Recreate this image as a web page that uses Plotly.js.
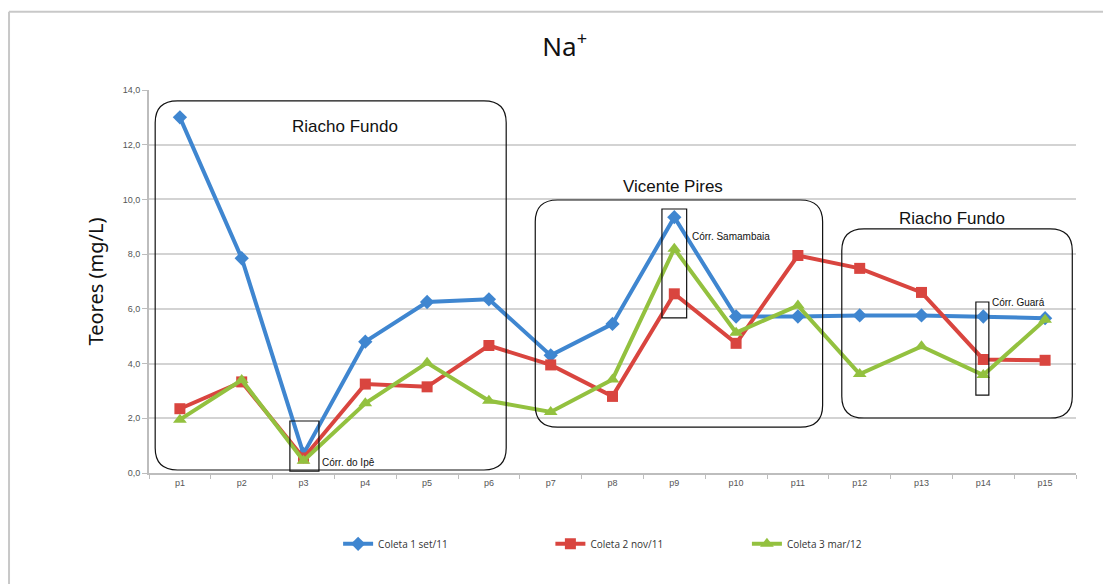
<!DOCTYPE html>
<html>
<head>
<meta charset="utf-8">
<script src="https://cdn.plot.ly/plotly-3.0.1.min.js"></script>
<style>
  html, body { margin: 0; padding: 0; background: #fff; }
  #chart { width: 1103px; height: 584px; }
</style>
</head>
<body>
<div id="chart"></div>
<script>
const points = ['p1', 'p2', 'p3', 'p4', 'p5', 'p6', 'p7', 'p8', 'p9', 'p10', 'p11', 'p12', 'p13', 'p14', 'p15'];

const coleta1 = [13.0, 7.85, 0.7, 4.8, 6.25, 6.35, 4.3, 5.45, 9.35, 5.72, 5.72, 5.76, 5.76, 5.72, 5.66];
const coleta2 = [2.35, 3.33, 0.55, 3.25, 3.15, 4.66, 3.95, 2.8, 6.55, 4.74, 7.95, 7.48, 6.6, 4.15, 4.12];
const coleta3 = [1.95, 3.4, 0.45, 2.55, 4.03, 2.64, 2.23, 3.42, 8.2, 5.13, 6.12, 3.62, 4.63, 3.58, 5.6];

const seriesNames = ['Coleta 1 set/11', 'Coleta 2 nov/11', 'Coleta 3 mar/12'];
const yTicks = [0, 2, 4, 6, 8, 10, 12, 14];

const xIdx = points.map((p, i) => i);
const boundaries = points.map((p, i) => i - 0.5).concat([points.length - 0.5]);

const makeTrace = (y, name, color, symbol, size, legend) => ({
    x: xIdx,
    y,
    name,
    legend,
    type: 'scatter',
    mode: 'lines+markers',
    line: { color, width: 4 },
    marker: { color, symbol, size }
});

// rounded rectangle in data units
const roundRect = (x0, x1, y0, y1, rx, ry) => {
    return 'M ' + (x0 + rx) + ',' + y1 +
        ' L ' + (x1 - rx) + ',' + y1 +
        ' Q ' + x1 + ',' + y1 + ' ' + x1 + ',' + (y1 - ry) +
        ' L ' + x1 + ',' + (y0 + ry) +
        ' Q ' + x1 + ',' + y0 + ' ' + (x1 - rx) + ',' + y0 +
        ' L ' + (x0 + rx) + ',' + y0 +
        ' Q ' + x0 + ',' + y0 + ' ' + x0 + ',' + (y0 + ry) +
        ' L ' + x0 + ',' + (y1 - ry) +
        ' Q ' + x0 + ',' + y1 + ' ' + (x0 + rx) + ',' + y1 + ' Z';
};

const boxLine = { color: '#111', width: 1.2 };

const shapes = [
    { type: 'path', xref: 'x', yref: 'y', path: roundRect(-0.4, 5.28, 0.11, 13.6, 0.36, 0.8), line: boxLine },
    { type: 'path', xref: 'x', yref: 'y', path: roundRect(5.75, 10.4, 1.68, 9.98, 0.36, 0.8), line: boxLine },
    { type: 'path', xref: 'x', yref: 'y', path: roundRect(10.71, 14.44, 2.01, 8.92, 0.36, 0.8), line: boxLine },
    { type: 'rect', xref: 'x', yref: 'y', x0: 1.78, x1: 2.25, y0: 0.07, y1: 1.9, line: boxLine },
    { type: 'rect', xref: 'x', yref: 'y', x0: 7.8, x1: 8.2, y0: 5.67, y1: 9.65, line: boxLine },
    { type: 'rect', xref: 'x', yref: 'y', x0: 12.88, x1: 13.09, y0: 2.85, y1: 6.25, line: boxLine },
    // outer frame
    { type: 'line', xref: 'paper', yref: 'paper', x0: -0.151, x1: -0.151, y0: 1.204, y1: -0.35, line: { color: '#c8c8c8', width: 2 } },
    { type: 'line', xref: 'paper', yref: 'paper', x0: -0.151, x1: 1.1, y0: 1.204, y1: 1.204, line: { color: '#c8c8c8', width: 2 } }
];

const bigFont = { family: 'Liberation Sans, Arial, sans-serif', size: 17, color: '#111' };
const smallFont = { family: 'Liberation Sans, Arial, sans-serif', size: 10, color: '#111' };

const annotations = [
    { x: 2.67, y: 12.68, text: 'Riacho Fundo', font: bigFont },
    { x: 7.98, y: 10.49, text: 'Vicente Pires', font: bigFont },
    { x: 12.49, y: 9.32, text: 'Riacho Fundo', font: bigFont },
    { x: 2.27, y: 0.4, text: 'Córr. do Ipê', font: smallFont, xanchor: 'left' },
    { x: 8.25, y: 8.63, text: 'Córr. Samambaia', font: smallFont, xanchor: 'left' },
    { x: 13.11, y: 6.25, text: 'Córr. Guará', font: smallFont, xanchor: 'left' }
].map(a => Object.assign({ xref: 'x', yref: 'y', showarrow: false, xanchor: 'center', yanchor: 'middle' }, a));

const data = [
    makeTrace(coleta1, seriesNames[0], '#3f86d0', 'diamond', 11, 'legend'),
    makeTrace(coleta2, seriesNames[1], '#d9453f', 'square', 11, 'legend2'),
    makeTrace(coleta3, seriesNames[2], '#93c13f', 'triangle-up', 12, 'legend3')
];

const legendBase = x => ({
    orientation: 'h',
    x,
    xanchor: 'left',
    y: -0.185,
    yanchor: 'middle',
    bgcolor: 'rgba(0,0,0,0)',
    font: { family: 'Open Sans, sans-serif', size: 10, color: '#333' }
});

const layout = {
    width: 1103,
    height: 584,
    margin: { l: 149, r: 27, t: 90, b: 111 },
    paper_bgcolor: '#fff',
    plot_bgcolor: '#fff',
    separators: ',.',
    font: { family: 'Liberation Sans, Arial, sans-serif', color: '#444' },
    title: {
        text: 'Na<sup>+</sup>',
        x: 0.512,
        xref: 'container',
        xanchor: 'center',
        y: 0.92,
        yanchor: 'middle',
        font: { family: 'Noto Sans, sans-serif', size: 26, color: '#111' }
    },
    showlegend: true,
    legend: legendBase(0.204),
    legend2: legendBase(0.433),
    legend3: legendBase(0.645),
    xaxis: {
        type: 'linear',
        range: [-0.5, 14.5],
        tickmode: 'array',
        tickvals: xIdx,
        ticktext: points,
        ticks: '',
        showgrid: false,
        zeroline: false,
        showline: true,
        linecolor: '#bdbdbd',
        linewidth: 2,
        tickfont: { size: 9, color: '#555' },
        minor: { tickmode: 'array', tickvals: boundaries, ticks: 'outside', ticklen: 4, tickcolor: '#bdbdbd', tickwidth: 1, showgrid: false },
        fixedrange: true
    },
    yaxis: {
        range: [0, 14],
        tickmode: 'array',
        tickvals: yTicks,
        tickformat: '.1f',
        ticks: 'outside',
        ticklen: 5,
        tickcolor: '#bdbdbd',
        showline: true,
        linecolor: '#bdbdbd',
        linewidth: 2,
        gridcolor: '#d3d3d3',
        gridwidth: 2,
        zeroline: false,
        tickfont: { size: 9, color: '#555' },
        title: { text: 'Teores (mg/L)', font: { family: 'Noto Sans, sans-serif', size: 20, color: '#111' }, standoff: 14 },
        fixedrange: true
    },
    shapes,
    annotations
};

Plotly.newPlot('chart', data, layout, { displayModeBar: false, staticPlot: true });
</script>
</body>
</html>
